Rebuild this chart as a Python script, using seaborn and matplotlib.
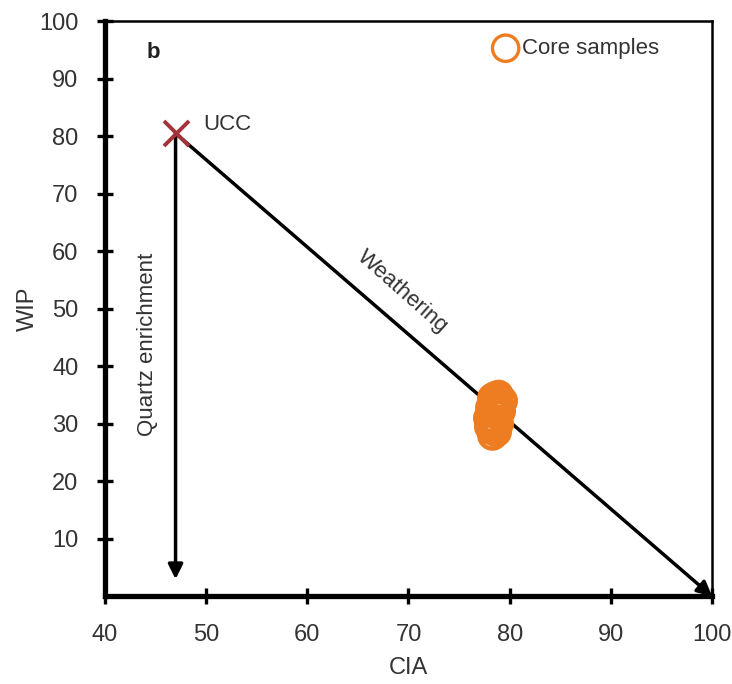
import matplotlib
matplotlib.use("Agg")
import matplotlib.pyplot as plt
import seaborn as sns
import pandas as pd

# Core sample chemistry (CIA vs WIP)
cia = [78.9, 79.3, 78.6, 78.4, 78.8, 78.2, 78.0, 78.5, 78.9, 78.3, 77.9, 78.6,
       79.0, 78.1, 78.7, 78.4, 78.2, 79.1, 78.5, 78.0, 78.7, 78.3, 78.9, 78.5]
wip = [35.0, 34.0, 33.5, 32.0, 31.5, 30.5, 29.5, 29.0, 30.0, 28.0, 31.0, 34.8,
       33.0, 32.8, 28.6, 33.8, 29.0, 32.2, 30.8, 30.0, 31.8, 34.5, 32.5, 29.8]

# Upper continental crust reference
ucc_cia, ucc_wip = 47.0, 80.5
weathering_end = (100.0, 0.0)
quartz_end = (47.0, 3.0)

x_ticks = [40, 50, 60, 70, 80, 90, 100]
y_ticks = [10, 20, 30, 40, 50, 60, 70, 80, 90, 100]

sns.set_style("white")
plt.rcParams["font.family"] = ["Liberation Sans", "DejaVu Sans"]

fig = plt.figure(figsize=(7.32, 6.84), dpi=100)
ax = fig.add_axes([0.143, 0.128, 0.830, 0.841])

df = pd.DataFrame({"CIA": cia, "WIP": wip})
orange = "#ee7d22"
sns.scatterplot(data=df, x="CIA", y="WIP", ax=ax, s=360, facecolor="none",
                edgecolor=orange, linewidth=3.2, zorder=4, legend=False)

# Weathering trend and quartz enrichment arrows
arrow_kw = dict(arrowstyle="-|>", color="black", lw=2.5, mutation_scale=22,
                shrinkA=0, shrinkB=0)
ax.annotate("", xy=weathering_end, xytext=(ucc_cia, ucc_wip), arrowprops=arrow_kw, zorder=3)
ax.annotate("", xy=quartz_end, xytext=(ucc_cia, ucc_wip), arrowprops=arrow_kw, zorder=3)

ax.plot([ucc_cia], [ucc_wip], marker="x", color="#a3333a", markersize=18,
        markeredgewidth=2.8, zorder=5, linestyle="none")
ax.text(49.7, 82.0, "UCC", fontsize=16, color="#333333", va="center", ha="left")

ax.text(69.4, 53.0, "Weathering", fontsize=16, color="#333333", rotation=-41.5,
        ha="center", va="center", rotation_mode="anchor")
ax.text(44.2, 43.8, "Quartz enrichment", fontsize=16, color="#333333", rotation=90,
        ha="center", va="center")
ax.text(44.8, 94.6, "b", fontsize=16, fontweight="bold", color="#222222",
        ha="center", va="center")

# Legend entry
ax.scatter([79.6], [95.3], s=360, facecolor="none", edgecolor=orange, linewidth=2.4, zorder=4)
ax.text(81.2, 95.2, "Core samples", fontsize=16, color="#333333", va="center", ha="left")

ax.set_xlim(40, 100)
ax.set_ylim(0, 100)
ax.set_xticks(x_ticks)
ax.set_yticks(y_ticks)
ax.set_xlabel("CIA", fontsize=17, color="#333333", labelpad=8)
ax.set_ylabel("WIP", fontsize=17, color="#333333", labelpad=0)
ax.tick_params(bottom=True, left=True, direction="inout", length=12, width=2.4,
               labelsize=17, colors="black", labelcolor="#333333")
ax.tick_params(axis="x", pad=14)
ax.tick_params(axis="y", pad=13)

for side in ["left", "bottom"]:
    ax.spines[side].set_linewidth(3.8)
    ax.spines[side].set_color("black")
for side in ["top", "right"]:
    ax.spines[side].set_linewidth(1.8)
    ax.spines[side].set_color("black")

fig.savefig("out.png", dpi=100)
